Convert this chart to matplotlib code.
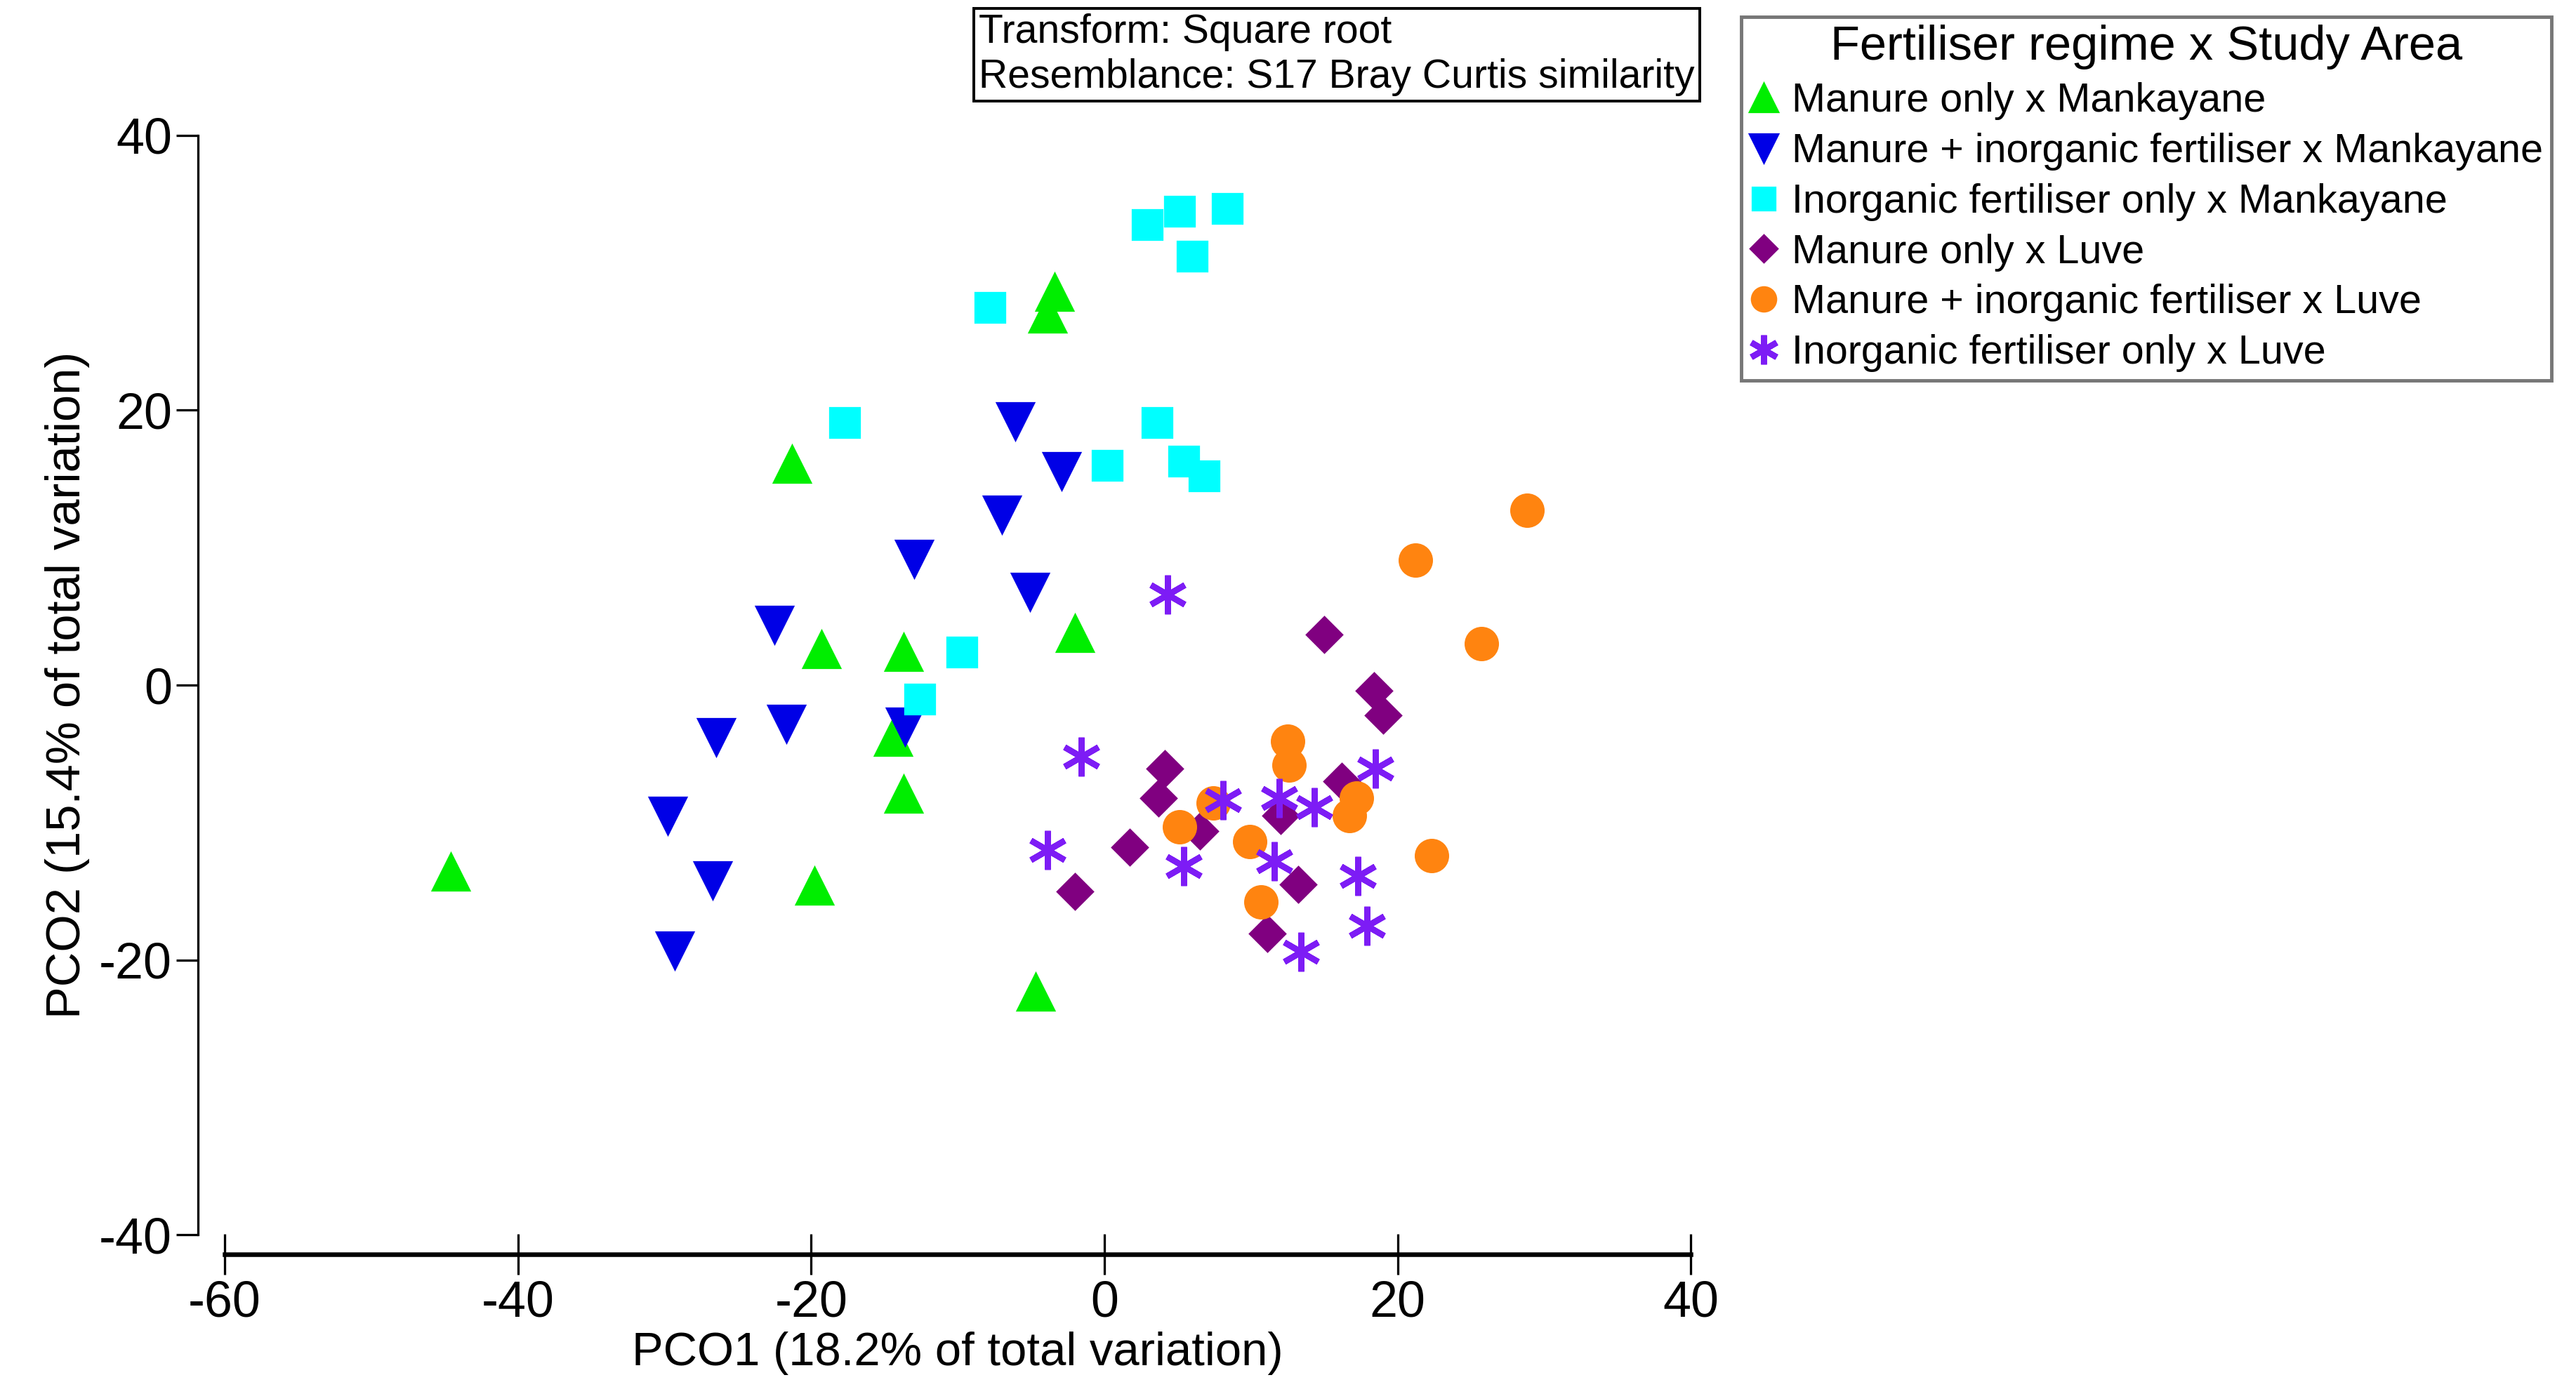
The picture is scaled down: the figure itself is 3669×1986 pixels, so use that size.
import matplotlib
matplotlib.use("Agg")
import matplotlib.pyplot as plt

plt.rcParams['font.family'] = ['Liberation Sans', 'DejaVu Sans']
plt.rcParams['axes.unicode_minus'] = False

# PCO scores
manure_mank_x = [-3.4, -3.9, -21.3, -19.3, -13.7, -2.0, -14.4, -13.7, -44.6, -19.8, -4.7]
manure_mank_y = [28.6, 27.0, 16.1, 2.6, 2.4, 3.8, -3.8, -7.9, -13.6, -14.6, -22.3]

mix_mank_x = [-6.1, -2.9, -7.0, -13.0, -5.1, -22.5, -21.7, -26.5, -13.6, -29.8, -26.7, -29.3]
mix_mank_y = [19.2, 15.6, 12.4, 9.2, 6.8, 4.4, -2.8, -3.8, -3.0, -9.5, -14.2, -19.3]

inorg_mank_x = [2.9, 5.1, 8.4, 6.0, -7.8, -17.7, 3.6, 0.2, 5.4, 6.8, -9.7, -12.6]
inorg_mank_y = [33.5, 34.5, 34.7, 31.2, 27.5, 19.1, 19.1, 16.0, 16.3, 15.2, 2.4, -1.0]

manure_luve_x = [15.0, 18.4, 19.0, 4.1, 3.7, 6.5, 16.2, 12.0, 1.7, -2.0, 13.2, 11.1]
manure_luve_y = [3.7, -0.4, -2.2, -6.1, -8.2, -10.6, -7.0, -9.5, -11.8, -15.0, -14.5, -18.1]

mix_luve_x = [28.8, 21.2, 25.7, 12.5, 12.6, 17.2, 16.7, 7.4, 5.1, 9.9, 22.3, 10.7]
mix_luve_y = [12.7, 9.1, 3.0, -4.1, -5.8, -8.2, -9.5, -8.6, -10.3, -11.4, -12.4, -15.8]

inorg_luve_x = [4.3, -1.6, 18.5, 8.1, 11.9, 14.3, -3.9, 5.4, 11.6, 17.3, 17.9, 13.4]
inorg_luve_y = [6.6, -5.2, -6.1, -8.4, -8.2, -8.9, -12.0, -13.2, -12.8, -13.9, -17.5, -19.4]

labels = ["Manure only x Mankayane",
          "Manure + inorganic fertiliser x Mankayane",
          "Inorganic fertiliser only x Mankayane",
          "Manure only x Luve",
          "Manure + inorganic fertiliser x Luve",
          "Inorganic fertiliser only x Luve"]

fig = plt.figure(figsize=(15.6, 8.444), dpi=235.2)
ax = fig.add_axes([0.0872, 0.1142, 0.5692, 0.7887])

h1, = ax.plot(manure_mank_x, manure_mank_y, ls='none', marker='^', ms=16, color='#00ee00', label=labels[0])
h2, = ax.plot(mix_mank_x, mix_mank_y, ls='none', marker='v', ms=16, color='#0000e6', label=labels[1])
h3, = ax.plot(inorg_mank_x, inorg_mank_y, ls='none', marker='s', ms=13, color='#00ffff', label=labels[2])
h4, = ax.plot(manure_luve_x, manure_luve_y, ls='none', marker='D', ms=11, color='#800080', label=labels[3])
h5, = ax.plot(mix_luve_x, mix_luve_y, ls='none', marker='o', ms=14, color='#ff8410', label=labels[4])
h6, = ax.plot(inorg_luve_x, inorg_luve_y, ls='none', marker=(6, 2, 0), ms=17, mew=2.6,
              color='#7d1cf5', label=labels[5])

ax.set_xlim(-60, 40)
ax.set_ylim(-40, 40)
ax.set_xticks([-60, -40, -20, 0, 20, 40])
ax.set_yticks([-40, -20, 0, 20, 40])

for s in ['top', 'right']:
    ax.spines[s].set_visible(False)
ax.spines['left'].set_position(('outward', 11.5))
ax.spines['left'].set_linewidth(1.0)
ax.spines['bottom'].set_position(('outward', 8.6))
ax.spines['bottom'].set_linewidth(2.0)
ax.tick_params(axis='y', direction='out', length=9.5, width=1.0, labelsize=22, pad=2)
ax.tick_params(axis='x', direction='inout', length=18, width=1.0, labelsize=22, pad=2)

ax.set_xlabel("PCO1 (18.2% of total variation)", fontsize=20.5, labelpad=2)
ax.set_ylabel("PCO2 (15.4% of total variation)", fontsize=21, labelpad=4)

# annotation box top
fig.text(0.3800, 0.9905, "Transform: Square root\nResemblance: S17 Bray Curtis similarity",
         fontsize=17.5, va='top', ha='left', linespacing=1.25,
         bbox=dict(boxstyle='square,pad=0.12', fc='white', ec='black', lw=1.2))

leg = fig.legend(handles=[h1, h2, h3, h4, h5, h6], title="Fertiliser regime x Study Area",
                 loc='upper left', bbox_to_anchor=(0.6760, 0.988), fontsize=17.6,
                 title_fontsize=21, frameon=True, fancybox=False, edgecolor='#555555',
                 handlelength=0.7, handletextpad=0.35, borderpad=0.2, labelspacing=0.31,
                 borderaxespad=0, markerscale=0.75)
leg.get_frame().set_linewidth(1.5)

fig.savefig("out.png", dpi=235.2, facecolor='white')
